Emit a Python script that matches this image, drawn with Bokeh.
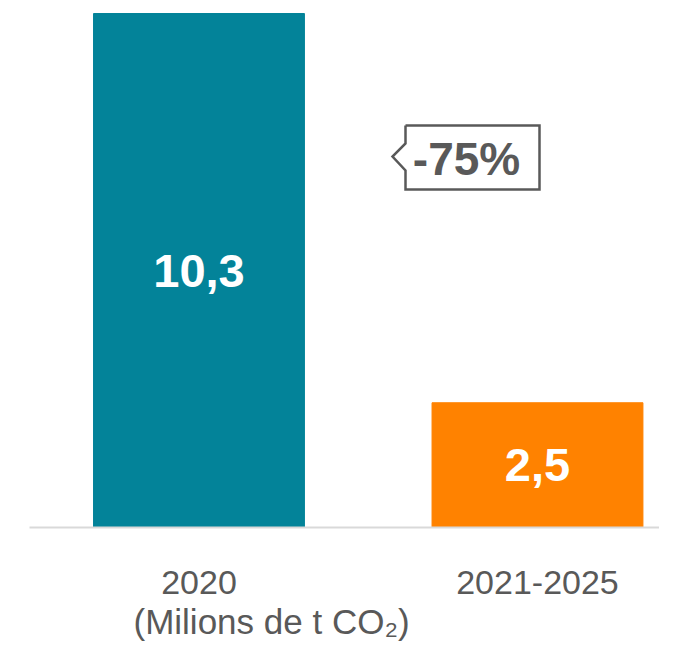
from bokeh.plotting import figure
from bokeh.models import ColumnDataSource, Range1d, Label, FixedTicker, Title
from bokeh.core.properties import value
from bokeh.embed import file_html
from bokeh.resources import INLINE

# ---- data ----
categories = ["2020", "2021-2025"]
values = [10.3, 2.5]
value_labels = ["10,3", "2,5"]
colors = ["#038399", "#FF8200"]
unit_note = "(Milions de t CO\u2082)"
change_label = "-75%"

FONT = "Liberation Sans"
GREY = "#595959"

xs = list(range(len(categories)))
src = ColumnDataSource(dict(x=xs, top=values, half=[v / 2 for v in values],
                            lab=value_labels, color=colors))

W, H = 659, 645
LEFT, TOP, AXIS_Y = 29, 8, 527
X0, XS = -0.5007, 338.5          # data x at frame left, px per unit
YS = 49.9                        # px per unit in y
frame_w = W - LEFT
frame_h = AXIS_Y - TOP

p = figure(width=W, height=H, output_backend="svg", toolbar_location=None,
           x_range=Range1d(X0, X0 + frame_w / XS),
           y_range=Range1d(0, frame_h / YS),
           min_border_left=LEFT, min_border_right=0, min_border_top=TOP,
           min_border_bottom=H - AXIS_Y)
p.outline_line_color = None
p.background_fill_color = None
p.border_fill_color = "white"
p.grid.visible = False
p.yaxis.visible = False

p.vbar(x="x", top="top", width=0.623, color="color", source=src)
p.text(x="x", y="half", text="lab", source=src, text_color="white",
       text_font=value(FONT), text_font_style="bold", text_font_size="47px",
       text_align="center", text_baseline="middle")

# x axis
xa = p.xaxis[0]
xa.ticker = FixedTicker(ticks=xs)
xa.major_label_overrides = {i: c for i, c in enumerate(categories)}
xa.major_tick_line_color = None
xa.minor_tick_line_color = None
xa.axis_line_color = "#d9d9d9"
xa.axis_line_width = 2
xa.major_label_text_font = FONT
xa.major_label_text_font_size = "34px"
xa.major_label_text_color = GREY
xa.major_label_standoff = 37

# unit note under first category (a title panel below the axis)
p.add_layout(Title(text=unit_note, align="left", offset=104, standoff=6,
                   text_font=FONT, text_font_size="35px",
                   text_font_style="normal", text_color=GREY), "below")

# callout box for change
def px2x(px):
    return (px - LEFT) / XS + X0

def py2y(py):
    return (AXIS_Y - py) / YS

L, R, T, B = 405, 539, 125, 189
tipx, tipy, ja, jb = 392, 156, 143, 170
cx = [px2x(v) for v in [L, R, R, L, L, tipx, L, L]]
cy = [py2y(v) for v in [T, T, B, B, jb, tipy, ja, T]]
p.line(cx, cy, line_color=GREY, line_width=2.5, line_join="miter")
p.add_layout(Label(x=px2x(466), y=py2y(158), text=change_label,
                   text_font=FONT, text_font_style="bold", text_font_size="46px",
                   text_color=GREY, text_align="center", text_baseline="middle"))

open("out.html", "w").write(file_html(p, INLINE))
